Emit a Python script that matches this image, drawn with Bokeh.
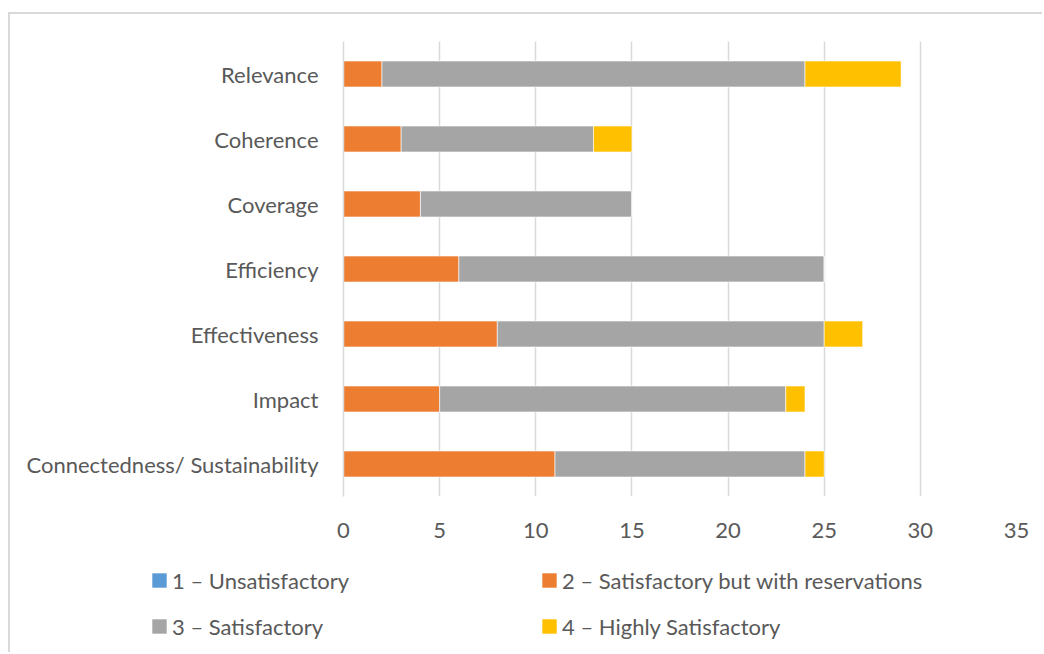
from bokeh.plotting import figure
from bokeh.models import Legend, LegendItem, FactorRange, FixedTicker, ColumnDataSource
from bokeh.embed import file_html
from bokeh.resources import INLINE

# Evaluation criteria and the number of ratings in each score band
categories = ["Relevance", "Coherence", "Coverage", "Efficiency",
              "Effectiveness", "Impact", "Connectedness/ Sustainability"]
unsatisfactory = [0, 0, 0, 0, 0, 0, 0]
reservations = [2, 3, 4, 6, 8, 5, 11]
satisfactory = [22, 10, 11, 19, 17, 18, 13]
highly_satisfactory = [5, 2, 0, 0, 2, 1, 1]

series_names = ["1 – Unsatisfactory", "2 – Satisfactory but with reservations",
                "3 – Satisfactory", "4 – Highly Satisfactory"]
series_keys = ["u", "r", "s", "h"]
series_colors = ["#5B9BD5", "#ED7D31", "#A5A5A5", "#FFC000"]
x_ticks = [0, 5, 10, 15, 20, 25, 30, 35]

FONT = "Lato"
FONT_SIZE = "22px"
TEXT = "#595959"
RULE = "#d9d9d9"
EDGE = "2px solid #d9d9d9"

source = ColumnDataSource(dict(category=categories, u=unsatisfactory, r=reservations,
                               s=satisfactory, h=highly_satisfactory))

# ---- bar chart ----
p = figure(width=1034, height=550, output_backend="svg", toolbar_location=None,
           y_range=FactorRange(factors=list(reversed(categories))),
           x_range=(0, 35),
           min_border_left=333, min_border_right=28, min_border_top=27,
           min_border_bottom=68)
p.styles = {"margin-left": "8px", "margin-top": "12px",
            "border-left": EDGE, "border-top": EDGE}
p.outline_line_color = None
p.background_fill_color = "white"
p.border_fill_color = "white"

renderers = p.hbar_stack(series_keys, y="category", height=0.4, color=series_colors,
                         source=source)
for i, r in enumerate(renderers):
    if i == 0:
        r.glyph.line_color = None
    else:
        r.glyph.line_color = "white"
        r.glyph.line_width = 0.6

p.xaxis.ticker = FixedTicker(ticks=x_ticks)
p.xaxis.axis_line_color = None
p.xaxis.major_tick_line_color = None
p.xaxis.minor_tick_line_color = None
p.xaxis.major_label_standoff = 20
p.xaxis.major_label_text_font = FONT
p.xaxis.major_label_text_font_size = FONT_SIZE
p.xaxis.major_label_text_color = TEXT

p.yaxis.axis_line_color = RULE
p.yaxis.axis_line_width = 1.5
p.yaxis.major_tick_line_color = None
p.yaxis.minor_tick_line_color = None
p.yaxis.major_label_standoff = 19
p.yaxis.major_label_text_font = FONT
p.yaxis.major_label_text_font_size = FONT_SIZE
p.yaxis.major_label_text_color = TEXT

p.xgrid.grid_line_color = RULE
p.xgrid.grid_line_width = 1.5
p.ygrid.grid_line_color = None

# ---- legend strip (two columns, filled row by row) ----
lp = figure(width=1034, height=90, output_backend="svg", toolbar_location=None,
            x_range=(0, 1), y_range=(0, 1), min_border=0)
lp.styles = {"margin-left": "8px", "border-left": EDGE}
lp.axis.visible = False
lp.grid.visible = False
lp.outline_line_color = None
lp.background_fill_color = "white"
lp.border_fill_color = "white"

# colour swatches for the legend, parked outside the visible range
swatches = [lp.hbar(y=[-5], left=[0], right=[1], height=1, fill_color=c, line_color=None)
            for c in series_colors]

def legend_column(idx, x):
    return Legend(items=[LegendItem(label=series_names[i], renderers=[swatches[i]])
                         for i in idx],
                  location=(x, 3), orientation="vertical",
                  glyph_width=18, glyph_height=18, label_standoff=4,
                  label_height=46, spacing=0, padding=0, margin=0,
                  border_line_color=None, background_fill_alpha=0,
                  label_text_font=FONT, label_text_font_size=FONT_SIZE,
                  label_text_color=TEXT)

lp.add_layout(legend_column([0, 2], 140))
lp.add_layout(legend_column([1, 3], 530))

open("out.html", "w").write(file_html([p, lp], INLINE))
